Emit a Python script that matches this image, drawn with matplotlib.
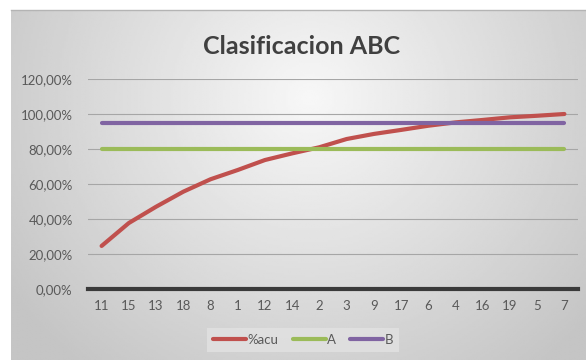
import matplotlib

matplotlib.use("Agg")

import matplotlib.pyplot as plt
import numpy as np
from matplotlib.ticker import FuncFormatter

categories = ["11", "15", "13", "18", "8", "1", "12", "14", "2",
              "3", "9", "17", "6", "4", "16", "19", "5", "7"]
pct_acu = [24.6, 37.7, 47.0, 55.6, 62.7, 68.0, 73.7, 77.5, 81.0,
           85.7, 88.6, 90.9, 93.3, 95.2, 96.6, 98.1, 99.0, 100.0]
limit_a = [80.0] * len(categories)
limit_b = [95.0] * len(categories)
y_ticks = [0, 20, 40, 60, 80, 100, 120]

plt.rcParams["font.family"] = ["Lato", "DejaVu Sans"]

fig = plt.figure(figsize=(5.86, 3.6), dpi=100)
fig.patch.set_facecolor("white")

# gradient background of the chart area
bg = fig.add_axes([11 / 586, 0, 575 / 586, 350 / 360], zorder=-10)
gx, gy = np.meshgrid(np.linspace(0, 1, 300), np.linspace(0, 1, 200))
dist = np.sqrt(((gx - 0.52) / 0.7) ** 2 + ((gy - 0.25) / 1.1) ** 2)
shade = np.clip(0.97 - 0.22 * dist, 0.77, 0.97)
bg.imshow(shade, cmap="gray", vmin=0, vmax=1, aspect="auto", extent=[0, 1, 1, 0])
bg.set_axis_off()
fig.add_artist(plt.Line2D([11 / 586, 1], [350 / 360, 350 / 360], color="#b4b4b4", lw=1))

ax = fig.add_axes([88 / 586, 1 - 289 / 360, 490 / 586, 210 / 360])
ax.set_facecolor("none")

x = np.arange(len(categories))
ax.plot(x, pct_acu, color="#c0504d", lw=3, solid_capstyle="round", label="%acu", zorder=3)
ax.plot(x, limit_a, color="#9bbb59", lw=3, solid_capstyle="round", label="A", zorder=3)
ax.plot(x, limit_b, color="#8064a2", lw=3, solid_capstyle="round", label="B", zorder=3)

ax.set_xlim(-0.5, len(categories) - 0.5)
ax.set_ylim(0, 120)
ax.set_yticks(y_ticks)
ax.yaxis.set_major_formatter(FuncFormatter(lambda v, _: f"{v:.2f}%".replace(".", ",")))
ax.set_xticks(x)
ax.set_xticklabels(categories)
ax.grid(axis="y", color="#a6a6a6", lw=0.8)
ax.axhline(0, color="#3a3a3a", lw=3, zorder=4, clip_on=False)
for side in ["top", "right", "left", "bottom"]:
    ax.spines[side].set_visible(False)
ax.tick_params(length=0, labelsize=9.5, colors="#595959")
ax.tick_params(axis="y", pad=11)
ax.tick_params(axis="x", pad=8)

fig.text(0.515, 1 - 46 / 360, "Clasificacion ABC", ha="center", va="center",
         fontsize=18, fontweight="bold", color="#404040")

leg = fig.legend(loc="center", bbox_to_anchor=(303 / 586, 1 - 340 / 360), ncol=3,
                 fontsize=9.5, frameon=True, handlelength=2.5, columnspacing=1.1,
                 handletextpad=0.1, borderpad=0.45)
leg.get_frame().set_facecolor("#e2e2e2")
leg.get_frame().set_edgecolor("none")
leg.get_frame().set_boxstyle("square", pad=0.0)
for text in leg.get_texts():
    text.set_color("#595959")

fig.savefig("out.png", dpi=100)
